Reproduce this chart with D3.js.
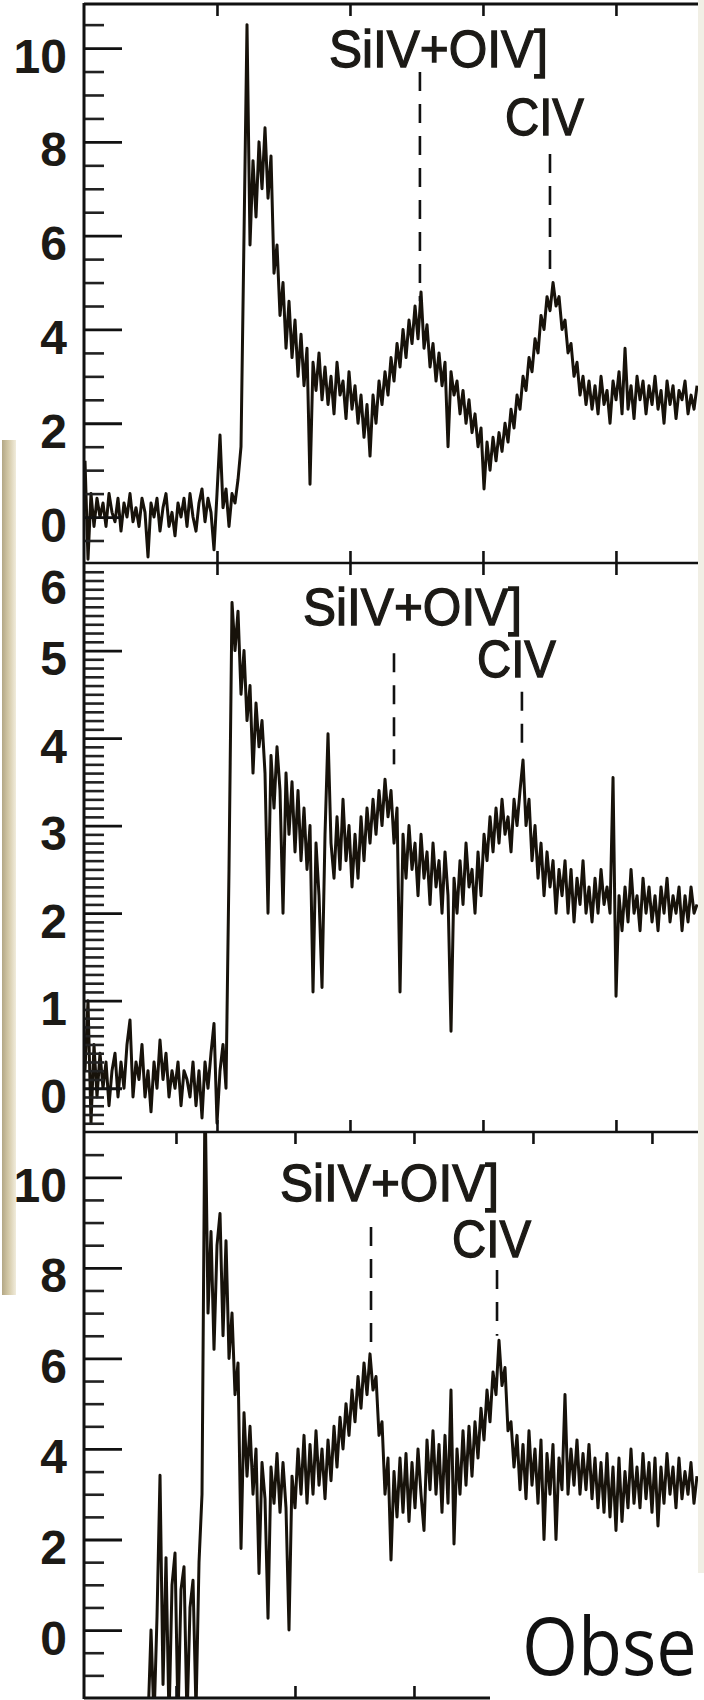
<!DOCTYPE html>
<html><head><meta charset="utf-8">
<script src="https://cdn.jsdelivr.net/npm/d3@7"></script>
<style>body{margin:0;background:#fff;} svg{display:block;}</style>
</head><body>
<svg id="c" width="704" height="1700"></svg>
<script>
// ---------------- DATA ----------------
const flux1 = [
1.2,-0.9,0.5,-0.2,0.4,0.0,0.3,-0.2,0.5,0.1,
-0.1,0.4,-0.3,0.3,0.0,0.5,-0.1,0.2,-0.2,0.4,
0.1,-0.85,0.3,0.0,0.4,-0.3,0.2,0.5,-0.2,0.1,
-0.4,0.3,0.0,0.4,-0.2,0.5,0.0,-0.3,0.3,0.6,
-0.1,0.4,0.1,-0.7,0.5,1.75,0.2,0.6,-0.2,0.5,
0.3,0.8,1.5,6.0,10.5,5.8,7.6,6.4,8.0,7.0,
8.3,6.8,7.7,5.2,5.8,4.3,5.0,3.6,4.6,3.4,
4.2,3.0,3.9,2.8,3.6,0.7,3.3,2.7,3.5,2.5,
3.2,2.4,3.0,2.2,3.3,2.6,2.9,2.1,3.1,2.3,
2.8,2.0,2.6,1.7,2.4,1.3,2.6,2.0,2.9,2.4,
3.1,2.6,3.4,2.9,3.7,3.2,4.0,3.4,4.2,3.7,
4.5,3.8,4.8,3.6,4.1,3.2,3.7,2.9,3.5,2.8,
3.3,1.5,3.1,2.6,2.9,2.2,2.7,2.0,2.5,1.8,
2.2,1.5,1.9,0.6,1.6,1.0,1.7,1.2,1.8,1.4,
2.0,1.6,2.3,1.9,2.6,2.3,3.0,2.7,3.4,3.1,
3.8,3.5,4.3,4.0,4.7,4.4,5.0,4.5,4.7,4.0,
4.2,3.5,3.7,3.0,3.3,2.6,3.0,2.4,2.9,2.3,
2.8,2.2,3.0,2.4,2.7,2.0,2.9,2.5,3.1,2.2,
3.6,2.3,2.8,2.1,3.0,2.5,2.9,2.2,2.8,2.4,
3.0,2.3,2.7,2.0,2.9,2.4,2.8,2.1,2.7,2.5,
2.9,2.2,2.6,2.3,2.8
];
const flux2 = [
0.2,1.0,-0.4,0.5,-0.1,0.4,0.0,0.3,-0.2,0.2,
0.4,-0.1,0.3,0.0,0.5,0.78,-0.1,0.3,0.1,0.5,
-0.1,0.2,-0.27,0.3,0.0,0.55,0.1,0.4,-0.1,0.2,
0.0,0.3,-0.2,0.2,0.1,-0.1,0.3,-0.2,0.2,-0.34,
0.3,0.0,0.4,0.74,-0.4,0.2,0.5,0.0,2.5,5.55,
5.0,5.45,4.5,5.0,4.2,4.6,3.6,4.4,3.9,4.2,
3.6,2.0,3.8,3.2,3.9,3.4,2.0,3.6,2.9,3.5,
2.7,3.4,2.6,3.2,2.5,3.0,1.1,2.8,2.2,1.15,
2.9,4.05,2.8,2.4,3.1,2.5,3.3,2.6,3.0,2.3,
2.9,2.4,3.1,2.6,3.2,2.8,3.3,2.9,3.4,3.0,
3.53,3.1,3.4,2.8,3.2,1.1,2.9,2.4,3.0,2.5,
2.8,2.2,2.9,2.4,2.7,2.1,2.8,2.3,2.6,2.0,
2.7,2.2,0.65,2.4,2.0,2.6,2.1,2.8,2.3,2.5,
2.0,2.7,2.2,2.9,2.6,3.1,2.7,3.2,2.8,3.3,
2.9,3.1,2.7,3.3,3.0,3.4,3.75,3.0,3.3,2.6,
3.0,2.4,2.8,2.2,2.7,2.3,2.6,2.0,2.5,2.2,
2.6,2.0,2.5,1.9,2.4,2.1,2.6,2.0,2.3,1.9,
2.4,2.0,2.5,2.1,2.3,2.0,3.55,1.05,2.2,1.8,
2.3,1.9,2.5,2.0,2.2,1.8,2.4,2.0,2.3,1.9,
2.2,1.8,2.3,2.0,2.4,1.9,2.2,2.0,2.3,1.8,
2.2,1.9,2.3,2.0,2.1
];
const flux3 = [
-2.0,0.0,-2.0,0.3,3.42,-1.2,1.6,-2.0,1.0,1.7,
-2.0,0.9,1.4,-2.0,0.5,1.1,-1.8,1.5,3.0,12,
7.0,8.8,6.2,8.5,9.2,6.5,8.6,6.0,7.0,5.2,
5.9,1.8,4.8,3.4,4.5,3.0,4.0,1.25,3.7,2.9,
0.26,3.6,2.8,3.9,2.6,3.7,2.7,0.0,3.4,2.7,
4.0,3.0,4.3,2.8,4.1,3.0,4.4,3.2,4.0,2.9,
4.2,3.3,4.5,3.6,4.7,4.0,5.0,4.3,5.3,4.6,
5.6,4.9,5.9,5.2,6.1,5.3,5.6,4.3,4.6,3.0,
3.8,1.55,3.5,2.5,3.8,2.6,3.9,2.4,3.7,2.7,
4.0,3.0,2.2,4.2,3.1,4.4,3.0,4.1,2.6,4.3,
2.8,5.3,1.9,4.0,3.0,4.4,3.2,4.5,3.4,4.6,
3.8,4.9,4.2,5.3,4.6,5.7,5.2,6.4,5.4,5.8,
4.4,4.6,3.6,4.3,3.1,4.1,2.9,4.4,3.2,4.0,
2.8,4.2,2.0,3.9,3.0,4.1,2.0,3.8,3.1,5.2,
3.0,4.0,3.2,4.2,3.0,3.9,3.1,4.1,2.9,3.8,
2.7,3.7,2.6,3.9,2.5,3.6,2.2,3.8,2.4,3.5,
2.7,4.0,2.8,3.6,2.7,3.9,2.9,3.7,2.6,3.8,
2.3,3.6,2.8,3.9,3.0,3.6,2.7,3.8,2.9,3.5,
3.0,3.7,2.8,3.4
];
// observed-wavelength sampling of each spectrum (Angstrom)
const wave1Start = 7007.5, wave1Step = 22.56;
const wave2Start = 7007.5, wave2Step = 22.56;
const wave3Start = 7765, wave3Step = 25.21;

const xDomain12 = [7000, 11617];
const xDomain3 = [7227, 12387];
const xTicks12 = [8000, 9000, 10000, 11000];
const xTicks3 = [8000, 9000, 10000, 11000, 12000];

const yDomain1 = [-0.98, 10.94];
const yDomain2 = [-0.5, 6];
const yDomain3 = [-1.5, 11];
const yMajor1 = [0, 2, 4, 6, 8, 10];
const yMajor2 = [0, 1, 2, 3, 4, 5, 6];
const yMajor3 = [0, 2, 4, 6, 8, 10];
const yMinorStep1 = 0.5, yMinorStep2 = 0.1, yMinorStep3 = 0.5;

const lineNames = ["SiIV+OIV]", "CIV"];
const lineWave1 = [9526, 10504];
const lineWave2 = [9331, 10293];
const lineWave3 = [9639, 10698];
const lineTop1 = [9.49, 7.74], lineBottom1 = [4.6, 5.1], labelY1 = [9.6, 8.15];
const lineTop2 = [4.97, 4.53], lineBottom2 = [3.7, 3.85], labelY2 = [5.29, 4.70];
const lineTop3 = [8.9, 7.95], lineBottom3 = [6.2, 6.5], labelY3 = [9.47, 8.23];

const captionText = "Obse";

// ---------------- LAYOUT ----------------
const svg = d3.select("#c");
const X0 = 84, X1 = 698;
const FONT = "'Liberation Sans', Arial, Helvetica, sans-serif";
const INK = "#17120a";

const panels = [
  {top: 4, bottom: 563, flux: flux1, ws: wave1Start, wstep: wave1Step, xd: xDomain12,
   yd: yDomain1, major: yMajor1, minor: yMinorStep1, lw: lineWave1, lt: lineTop1, lb: lineBottom1, ly: labelY1,
   xtTop: xTicks12, xtBot: xTicks12},
  {top: 563, bottom: 1132, flux: flux2, ws: wave2Start, wstep: wave2Step, xd: xDomain12,
   yd: yDomain2, major: yMajor2, minor: yMinorStep2, lw: lineWave2, lt: lineTop2, lb: lineBottom2, ly: labelY2,
   xtTop: xTicks12, xtBot: xTicks12},
  {top: 1132, bottom: 1698, flux: flux3, ws: wave3Start, wstep: wave3Step, xd: xDomain3,
   yd: yDomain3, major: yMajor3, minor: yMinorStep3, lw: lineWave3, lt: lineTop3, lb: lineBottom3, ly: labelY3,
   xtTop: xTicks3, xtBot: xTicks3.slice(0, 3)}
];

// background decorations
const defs = svg.append("defs");
const g1 = defs.append("linearGradient").attr("id", "bar").attr("x1", 0).attr("x2", 1).attr("y1", 0).attr("y2", 0);
g1.append("stop").attr("offset", "0%").attr("stop-color", "#b3a785");
g1.append("stop").attr("offset", "45%").attr("stop-color", "#d3c8a6");
g1.append("stop").attr("offset", "100%").attr("stop-color", "#f1ecdc");
svg.append("rect").attr("x", 2).attr("y", 440).attr("width", 14).attr("height", 855).attr("fill", "url(#bar)");
svg.append("rect").attr("x", X1).attr("y", 0).attr("width", 704 - X1).attr("height", 1573).attr("fill", "#f1efe5");

panels.forEach((p, k) => {
  const x = d3.scaleLinear().domain(p.xd).range([X0, X1]);
  const y = d3.scaleLinear().domain(p.yd).range([p.bottom, p.top]);
  const g = svg.append("g");

  const cid = "clip" + k;
  defs.append("clipPath").attr("id", cid).append("rect")
    .attr("x", X0).attr("y", p.top).attr("width", X1 - X0).attr("height", p.bottom - p.top);

  // spectrum
  const line = d3.line().x((d, i) => x(p.ws + i * p.wstep)).y(d => y(d));
  g.append("path").datum(p.flux).attr("clip-path", `url(#${cid})`)
    .attr("d", line).attr("fill", "none").attr("stroke", INK)
    .attr("stroke-width", 3).attr("stroke-linejoin", "round");

  // y ticks (inward)
  const lo = Math.ceil(p.yd[0] / p.minor - 1e-9), hi = Math.floor(p.yd[1] / p.minor + 1e-9);
  const minors = d3.range(lo, hi + 1).map(v => +(v * p.minor).toFixed(3))
    .filter(v => !p.major.includes(v) && y(v) > p.top + 2 && y(v) < p.bottom - 2);
  const minorAxis = d3.axisRight(y).tickValues(minors).tickSize(20).tickFormat("");
  const ga = g.append("g").attr("transform", `translate(${X0},0)`).call(minorAxis);
  ga.select(".domain").remove();
  ga.selectAll("line").attr("stroke", "#222").attr("stroke-width", 2.6);
  const majorAxis = d3.axisRight(y).tickValues(p.major.filter(v => y(v) > p.top + 1)).tickSize(38).tickFormat("");
  const gm = g.append("g").attr("transform", `translate(${X0},0)`).call(majorAxis);
  gm.select(".domain").remove();
  gm.selectAll("line").attr("stroke", "#111").attr("stroke-width", 2.8);

  // y labels
  const labAxis = d3.axisLeft(y).tickValues(p.major).tickSize(0).tickPadding(17).tickFormat(d3.format("d"));
  const gl = g.append("g").attr("transform", `translate(${X0},0)`).call(labAxis);
  gl.select(".domain").remove();
  gl.selectAll("text").attr("font-family", FONT).attr("font-size", 48).attr("font-weight", "bold")
    .attr("fill", "#1c1a16").attr("dy", null)
    .attr("y", function(d) { return Math.max(24, p.top + 40 - y(d)); });

  // x ticks top (pointing down) and bottom (pointing up)
  const gt = g.append("g").attr("transform", `translate(0,${p.top})`)
    .call(d3.axisTop(x).tickValues(p.xtTop).tickSize(-12).tickFormat(""));
  gt.select(".domain").remove();
  gt.selectAll("line").attr("stroke", "#111").attr("stroke-width", 2.6);
  const gb = g.append("g").attr("transform", `translate(0,${p.bottom})`)
    .call(d3.axisBottom(x).tickValues(p.xtBot).tickSize(-12).tickFormat(""));
  gb.select(".domain").remove();
  gb.selectAll("line").attr("stroke", "#111").attr("stroke-width", 2.6);

  // emission line markers
  const dxLab = [-91, -45];
  const labLen = [219, 79];
  p.lw.forEach((w, j) => {
    g.append("line").attr("x1", x(w)).attr("x2", x(w)).attr("y1", y(p.lt[j])).attr("y2", y(p.lb[j]))
      .attr("stroke", "#111").attr("stroke-width", 2.6).attr("stroke-dasharray", "19,13");
    g.append("text").attr("x", x(w) + dxLab[j]).attr("y", y(p.ly[j]))
      .attr("font-family", FONT).attr("font-size", 52).attr("fill", "#1c1a16")
      .attr("stroke", "#1c1a16").attr("stroke-width", 1.3)
      .attr("textLength", labLen[j]).attr("lengthAdjust", "spacingAndGlyphs")
      .text(lineNames[j]);
  });
});

// frame lines
svg.append("line").attr("x1", X0).attr("x2", X0).attr("y1", 3).attr("y2", 1699).attr("stroke", "#111").attr("stroke-width", 3);
svg.append("line").attr("x1", X0).attr("x2", X1).attr("y1", 4).attr("y2", 4).attr("stroke", "#111").attr("stroke-width", 3);
svg.append("line").attr("x1", X0).attr("x2", X1).attr("y1", 563).attr("y2", 563).attr("stroke", "#111").attr("stroke-width", 2.6);
svg.append("line").attr("x1", X0).attr("x2", X1).attr("y1", 1132).attr("y2", 1132).attr("stroke", "#111").attr("stroke-width", 2.6);
svg.append("line").attr("x1", X0).attr("x2", 490).attr("y1", 1698).attr("y2", 1698).attr("stroke", "#111").attr("stroke-width", 3);

// overlaid caption box (the caption is cut by the figure edge in the source)
svg.append("rect").attr("x", 490).attr("y", 1575).attr("width", 214).attr("height", 125).attr("fill", "#ffffff");
svg.append("text").attr("x", 0).attr("y", 0)
  .attr("transform", "translate(522,1675) scale(1,1.12)")
  .attr("font-family", "'Open Sans', 'Noto Sans', sans-serif").attr("font-size", 72).attr("fill", "#111")
  .text(captionText);
</script>
</body></html>
